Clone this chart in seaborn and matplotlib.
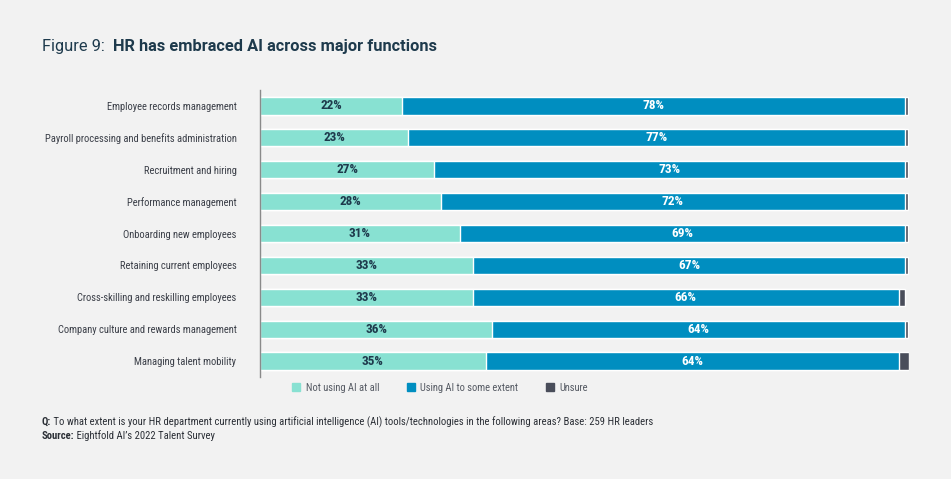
import numpy as np
import pandas as pd
import matplotlib
matplotlib.use("Agg")
import matplotlib.pyplot as plt
import seaborn as sns
from matplotlib.patches import Patch

categories = ["Employee records management",
              "Payroll processing and benefits administration",
              "Recruitment and hiring",
              "Performance management",
              "Onboarding new employees",
              "Retaining current employees",
              "Cross-skilling and reskilling employees",
              "Company culture and rewards management",
              "Managing talent mobility"]
not_using = [22, 23, 27, 28, 31, 33, 33, 36, 35]
using_some = [78, 77, 73, 72, 69, 67, 66, 64, 64]
unsure = [0.4, 0.4, 0.4, 0.4, 0.4, 0.4, 1.0, 0.4, 1.6]
series_names = ["Not using AI at all", "Using AI to some extent", "Unsure"]

C_NOT = "#88e1d2"
C_USE = "#008ec0"
C_UNS = "#494d5a"
BG = "#f2f2f2"
DARK = "#1e3a4c"
COND = ["Roboto Condensed", "Roboto", "DejaVu Sans"]

sns.set_theme(style="white")
plt.rcParams["font.family"] = COND

df = pd.DataFrame({"cat": categories, "not": not_using, "use": using_some, "uns": unsure})
df["c1"] = df["not"]
df["c2"] = df["not"] + df["use"]
df["c3"] = df["c2"] + df["uns"]

fig = plt.figure(figsize=(9.51, 4.79), dpi=100, facecolor=BG)
ax = fig.add_axes([0.2734, 0.213, 0.6824, 0.599])
ax.set_facecolor(BG)

# stacked bars: draw cumulative totals back to front
sns.barplot(data=df, y="cat", x="c3", color=C_UNS, width=0.54, ax=ax, saturation=1, orient="h")
sns.barplot(data=df, y="cat", x="c2", color=C_USE, width=0.54, ax=ax, saturation=1, orient="h")
sns.barplot(data=df, y="cat", x="c1", color=C_NOT, width=0.54, ax=ax, saturation=1, orient="h")

for i, r in df.iterrows():
    ax.text(r["not"] / 2, i, f"{r['not']}%", ha="center", va="center",
            fontsize=9.5, fontweight="bold", color=DARK)
    ax.text(r["not"] + r["use"] / 2, i, f"{r['use']}%", ha="center", va="center",
            fontsize=9.5, fontweight="bold", color="white")

ax.set_xlim(0, df["c3"].max())
ax.set_ylim(8.5, -0.5)
ax.set_xlabel("")
ax.set_ylabel("")
ax.set_xticks([])
ax.tick_params(axis="y", length=0, pad=17, labelsize=7.6, labelcolor="#3b3f48")
for s in ["top", "right", "bottom"]:
    ax.spines[s].set_visible(False)
ax.spines["left"].set_color("#8a8a8a")
ax.spines["left"].set_linewidth(1)

handles = [Patch(color=c) for c in [C_NOT, C_USE, C_UNS]]
fig.legend(handles, series_names, loc="center left", bbox_to_anchor=(0.297, 0.19),
           ncol=3, frameon=False, fontsize=7.6, handlelength=0.8, handleheight=0.8,
           handletextpad=0.5, columnspacing=2.6, labelcolor="#555a63")

# title
fig.canvas.draw()
r = fig.canvas.get_renderer()
t1 = fig.text(42 / 951, 1 - 51 / 479, "Figure 9:  ", fontsize=11.8, color=DARK,
              family=["Roboto", "DejaVu Sans"], va="baseline")
bb = t1.get_window_extent(r)
fig.text(bb.x1 / 951, 1 - 51 / 479, "HR has embraced AI across major functions", fontsize=11.8,
         fontweight="bold", color=DARK, family=["Roboto", "DejaVu Sans"], va="baseline")

# footnotes
def mixed(y, bold, rest):
    a = fig.text(42 / 951, 1 - y / 479, bold, fontsize=7.7, fontweight="bold", color="#2b2f36", va="baseline")
    b = a.get_window_extent(r)
    fig.text(b.x1 / 951, 1 - y / 479, rest, fontsize=7.7, color="#2b2f36", va="baseline")

mixed(425, "Q:", " To what extent is your HR department currently using artificial intelligence (AI) tools/technologies in the following areas? Base: 259 HR leaders")
mixed(439, "Source:", " Eightfold AI\u2019s 2022 Talent Survey")

fig.savefig("out.png", dpi=100, facecolor=BG)
